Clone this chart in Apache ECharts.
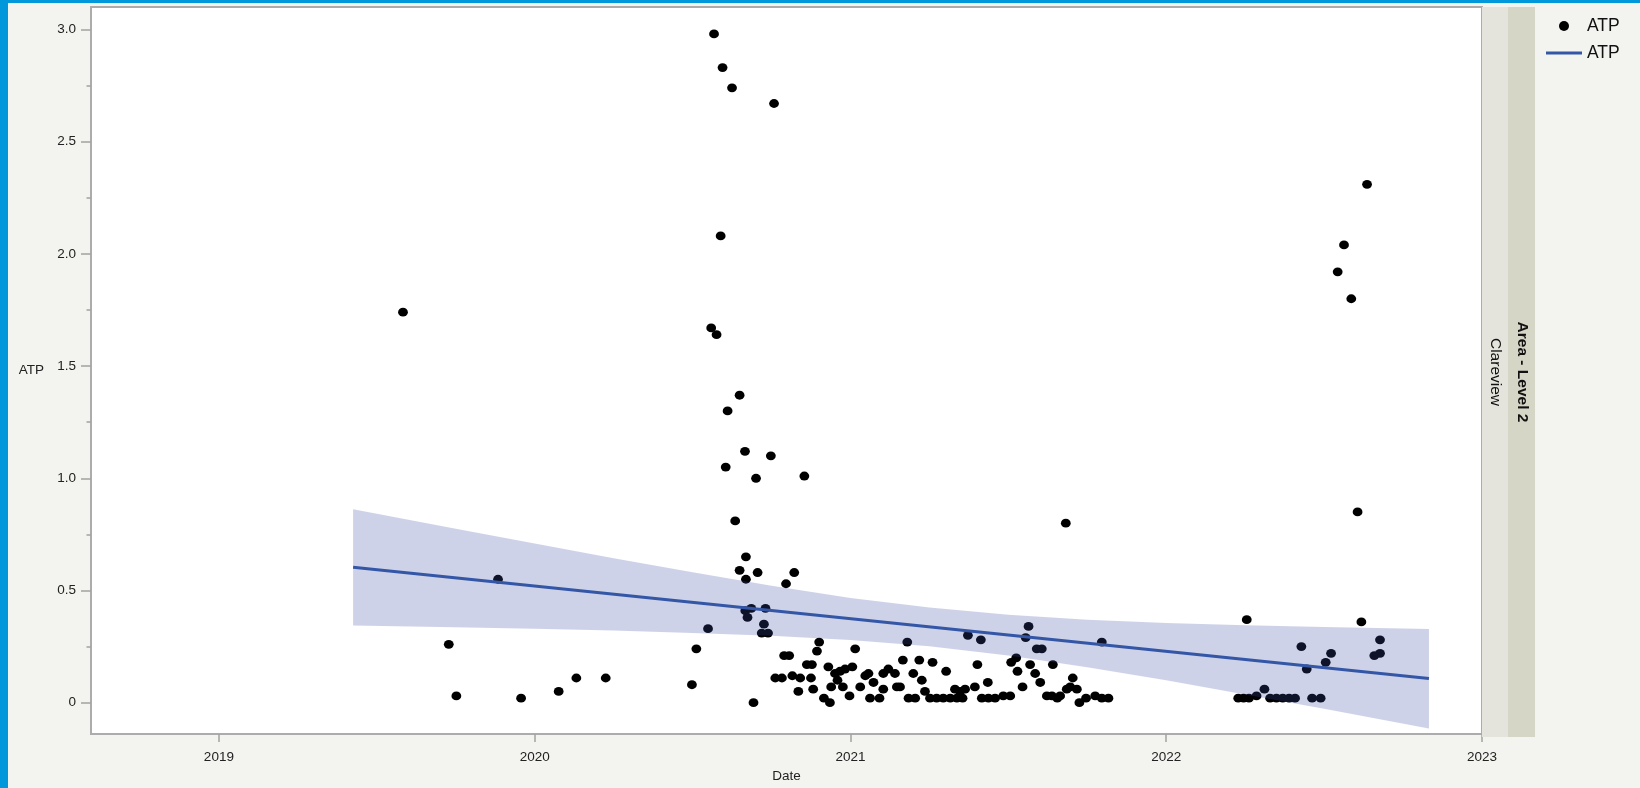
<!DOCTYPE html>
<html>
<head>
<meta charset="utf-8">
<title>ATP by Date</title>
<script src="https://cdn.jsdelivr.net/npm/echarts@6/dist/echarts.min.js"></script>
<style>
  html, body { margin: 0; padding: 0; background: #f3f4ef; }
  #chart { width: 1640px; height: 788px; }
</style>
</head>
<body>
<div id="chart"></div>
<script>
// ATP readings, [decimal year, ATP]
const atp2019 = [
  [2019.583, 1.74], [2019.728, 0.26], [2019.752, 0.03], [2019.884, 0.55], [2019.957, 0.02],
  [2020.076, 0.05], [2020.132, 0.11], [2020.225, 0.11]
];
const atp2020 = [
  [2020.498, 0.08], [2020.512, 0.24], [2020.549, 0.33], [2020.559, 1.67], [2020.576, 1.64],
  [2020.568, 2.98], [2020.595, 2.83], [2020.589, 2.08], [2020.625, 2.74], [2020.611, 1.30],
  [2020.649, 1.37], [2020.605, 1.05], [2020.666, 1.12], [2020.701, 1.00], [2020.758, 2.67],
  [2020.748, 1.10], [2020.635, 0.81], [2020.854, 1.01],
  [2020.669, 0.65], [2020.649, 0.59], [2020.706, 0.58], [2020.822, 0.58], [2020.669, 0.55],
  [2020.796, 0.53], [2020.686, 0.42], [2020.667, 0.41], [2020.731, 0.42], [2020.674, 0.38],
  [2020.726, 0.35], [2020.719, 0.31], [2020.739, 0.31], [2020.693, 0.00], [2020.901, 0.27],
  [2020.894, 0.23], [2020.790, 0.21], [2020.806, 0.21], [2020.862, 0.17], [2020.878, 0.17],
  [2020.930, 0.16], [2020.762, 0.11], [2020.783, 0.11], [2020.816, 0.12], [2020.841, 0.11],
  [2020.875, 0.11], [2020.951, 0.13], [2020.959, 0.10], [2020.835, 0.05], [2020.882, 0.06],
  [2020.939, 0.07], [2020.916, 0.02], [2020.935, 0.00],
  [2020.967, 0.14], [2020.983, 0.15], [2020.976, 0.07], [2020.997, 0.03]
];
const atp2021 = [
  [2021.006, 0.16], [2021.015, 0.24], [2021.031, 0.07], [2021.047, 0.12], [2021.057, 0.13],
  [2021.073, 0.09], [2021.062, 0.02], [2021.092, 0.02], [2021.104, 0.06], [2021.104, 0.13],
  [2021.120, 0.15], [2021.141, 0.13], [2021.147, 0.07], [2021.157, 0.07], [2021.166, 0.19],
  [2021.180, 0.27], [2021.199, 0.13], [2021.218, 0.19], [2021.226, 0.10], [2021.184, 0.02],
  [2021.205, 0.02], [2021.236, 0.05], [2021.260, 0.18], [2021.252, 0.02], [2021.273, 0.02],
  [2021.294, 0.02], [2021.316, 0.02], [2021.303, 0.14], [2021.331, 0.06], [2021.347, 0.05],
  [2021.363, 0.06], [2021.337, 0.02], [2021.355, 0.02], [2021.372, 0.30], [2021.413, 0.28],
  [2021.402, 0.17], [2021.394, 0.07], [2021.435, 0.09], [2021.416, 0.02], [2021.437, 0.02],
  [2021.458, 0.02], [2021.484, 0.03], [2021.506, 0.03], [2021.509, 0.18], [2021.525, 0.20],
  [2021.529, 0.14], [2021.545, 0.07], [2021.564, 0.34], [2021.555, 0.29], [2021.569, 0.17],
  [2021.585, 0.13], [2021.590, 0.24], [2021.606, 0.24], [2021.601, 0.09], [2021.622, 0.03],
  [2021.638, 0.03], [2021.641, 0.17], [2021.655, 0.02], [2021.664, 0.03], [2021.682, 0.80],
  [2021.685, 0.06], [2021.704, 0.11], [2021.696, 0.07], [2021.717, 0.06], [2021.725, 0.00],
  [2021.746, 0.02], [2021.775, 0.03], [2021.796, 0.02], [2021.817, 0.02], [2021.796, 0.27]
];
const atp2022 = [
  [2022.255, 0.37], [2022.228, 0.02], [2022.245, 0.02], [2022.262, 0.02], [2022.286, 0.03],
  [2022.311, 0.06], [2022.329, 0.02], [2022.349, 0.02], [2022.369, 0.02], [2022.389, 0.02],
  [2022.408, 0.02], [2022.428, 0.25], [2022.445, 0.15], [2022.462, 0.02], [2022.489, 0.02],
  [2022.505, 0.18], [2022.522, 0.22], [2022.543, 1.92], [2022.563, 2.04], [2022.586, 1.80],
  [2022.606, 0.85], [2022.618, 0.36], [2022.636, 2.31], [2022.659, 0.21], [2022.677, 0.28],
  [2022.677, 0.22]
];

// Linear fit and its confidence band
const fitYears = [2019.425, 2022.832];
const fitValues = [0.603, 0.108];
const bandYears = [2019.425, 2019.75, 2020.0, 2020.25, 2020.5, 2020.75, 2021.0, 2021.25,
                   2021.5, 2021.75, 2022.0, 2022.25, 2022.5, 2022.832];
const bandUpper = [0.862, 0.775, 0.709, 0.644, 0.581, 0.521, 0.467, 0.424,
                   0.392, 0.370, 0.355, 0.345, 0.337, 0.328];
const bandLower = [0.344, 0.336, 0.329, 0.322, 0.311, 0.298, 0.279, 0.251,
                   0.210, 0.158, 0.100, 0.037, -0.027, -0.115];

// Axis ticks
const yearTicks = [2019, 2020, 2021, 2022, 2023];
const atpTicks = [0, 0.5, 1.0, 1.5, 2.0, 2.5, 3.0];
const atpMinorTicks = [0.25, 0.75, 1.25, 1.75, 2.25, 2.75];

const points = atp2019.concat(atp2020, atp2021, atp2022);
const FONT = 'Liberation Sans, Arial, Helvetica, sans-serif';
const AXIS_GRAY = '#a3a3a3';
const FIT_BLUE = '#3456a6';

const chart = echarts.init(document.getElementById('chart'), null, { renderer: 'canvas' });

chart.setOption({
  backgroundColor: '#f3f4ef',
  animation: false,
  textStyle: { fontFamily: FONT },
  grid: {
    left: 91, right: 158, top: 7, bottom: 50,
    show: true, backgroundColor: '#ffffff',
    borderColor: '#acacac', borderWidth: 2
  },
  legend: {
    orient: 'vertical',
    left: 1541, top: 12,
    itemWidth: 36, itemHeight: 10, itemGap: 9,
    textStyle: { fontSize: 17.5, color: '#111', fontFamily: FONT },
    formatter: function (name) { return name.trim(); },
    data: [
      { name: 'ATP', icon: 'circle', itemStyle: { color: '#000000', opacity: 1 } },
      { name: 'ATP ', icon: 'path://M0,0H36V3H0Z', itemStyle: { color: FIT_BLUE } }
    ]
  },
  xAxis: {
    type: 'value',
    min: 2018.595, max: 2023,
    name: 'Date', nameLocation: 'middle', nameGap: 30,
    nameTextStyle: { fontSize: 13.5, color: '#222' },
    axisLine: { show: false, onZero: false },
    splitLine: { show: false },
    axisTick: { show: true, length: 8, customValues: yearTicks,
                lineStyle: { color: AXIS_GRAY, width: 1.5 } },
    axisLabel: { customValues: yearTicks, margin: 16, fontSize: 13.5, color: '#222',
                 formatter: function (v) { return String(Math.round(v)); } }
  },
  yAxis: [
    {
      type: 'value',
      min: -0.14, max: 3.1,
      name: 'ATP', nameLocation: 'middle', nameRotate: 0, nameGap: 47,
      nameTextStyle: { fontSize: 13.5, color: '#222' },
      axisLine: { show: false, onZero: false },
      splitLine: { show: false },
      axisTick: { show: true, length: 10, customValues: atpTicks,
                  lineStyle: { color: AXIS_GRAY, width: 1.5 } },
      axisLabel: { customValues: atpTicks, margin: 15, fontSize: 13.5, color: '#222',
                   formatter: function (v) { return v === 0 ? '0' : v.toFixed(1); } }
    },
    {
      type: 'value',
      min: -0.14, max: 3.1,
      position: 'left',
      axisLine: { show: false, onZero: false },
      splitLine: { show: false },
      axisLabel: { show: false },
      axisTick: { show: true, length: 4.5, customValues: atpMinorTicks,
                  lineStyle: { color: AXIS_GRAY, width: 1.5 } }
    }
  ],
  series: [
    {
      name: 'ATP',
      type: 'scatter',
      data: points,
      symbol: 'circle',
      symbolSize: [9.8, 8.8],
      itemStyle: { color: '#000000', opacity: 1 },
      z: 2
    },
    {
      name: 'band',
      type: 'custom',
      coordinateSystem: 'cartesian2d',
      data: [[bandYears[0], bandUpper[0]]],
      silent: true,
      z: 3,
      renderItem: function (params, api) {
        const pts = [];
        for (let i = 0; i < bandYears.length; i++) pts.push(api.coord([bandYears[i], bandUpper[i]]));
        for (let i = bandYears.length - 1; i >= 0; i--) pts.push(api.coord([bandYears[i], bandLower[i]]));
        return {
          type: 'polygon',
          shape: { points: pts },
          style: { fill: 'rgba(55,75,163,0.25)', stroke: null }
        };
      }
    },
    {
      name: 'ATP ',
      type: 'line',
      data: fitYears.map(function (y, i) { return [y, fitValues[i]]; }),
      symbol: 'none',
      showSymbol: false,
      lineStyle: { color: FIT_BLUE, width: 3 },
      itemStyle: { color: FIT_BLUE },
      z: 4
    }
  ],
  graphic: [
    // frame accents
    { type: 'rect', left: 0, top: 0, shape: { width: 8, height: 788 }, style: { fill: '#0098da' }, z: 0 },
    { type: 'rect', left: 0, top: 0, shape: { width: 1640, height: 3 }, style: { fill: '#0098da' }, z: 0 },
    // group strips
    { type: 'rect', shape: { x: 1482, y: 7, width: 26, height: 730 }, style: { fill: '#e4e4dc' }, z: 1 },
    { type: 'rect', shape: { x: 1508, y: 7, width: 27, height: 730 }, style: { fill: '#d6d6c7' }, z: 1 },
    { type: 'text', x: 1495, y: 372, rotation: -Math.PI / 2, z: 2,
      style: { text: 'Clareview', fontFamily: FONT, fontSize: 15.5, fill: '#111',
               align: 'center', verticalAlign: 'middle' } },
    { type: 'text', x: 1522, y: 372, rotation: -Math.PI / 2, z: 2,
      style: { text: 'Area - Level 2', fontFamily: FONT, fontSize: 15.5, fontWeight: 'bold', fill: '#111',
               align: 'center', verticalAlign: 'middle' } }
  ]
});
</script>
</body>
</html>
